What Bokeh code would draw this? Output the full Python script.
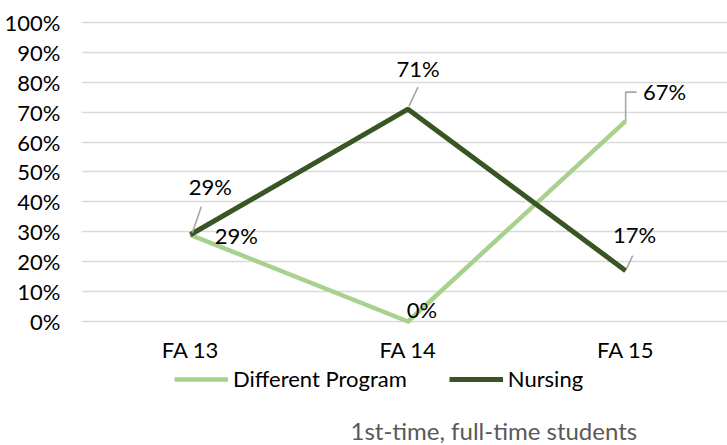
from bokeh.plotting import figure
from bokeh.models import (Range1d, FixedTicker, NumeralTickFormatter, Legend, LegendItem, Label)
from bokeh.core.properties import value
from bokeh.embed import file_html
from bokeh.resources import INLINE

categories = ["FA 13", "FA 14", "FA 15"]
different_program = [0.29, 0.00, 0.67]
nursing = [0.29, 0.71, 0.17]
y_ticks = [0.0, 0.1, 0.2, 0.3, 0.4, 0.5, 0.6, 0.7, 0.8, 0.9, 1.0]
caption = "1st-time, full-time students"

FONT = "Lato"
FS = "22px"
LIGHT = "#A9D18E"
DARK = "#375623"
LEADER = "#A6A6A6"

xs = list(range(len(categories)))

# frame spans the whole lower area so legend and caption are not clipped
p = figure(width=727, height=445, output_backend="svg", toolbar_location=None,
           x_range=Range1d(-0.5, 2.468), y_range=Range1d(-0.4147, 1.01),
           min_border_left=81, min_border_right=0, min_border_top=19, min_border_bottom=0)
p.outline_line_color = None
p.background_fill_color = "white"
p.border_fill_color = "white"

p.yaxis.ticker = FixedTicker(ticks=y_ticks)
p.yaxis.formatter = NumeralTickFormatter(format="0%")
p.yaxis.axis_line_color = None
p.yaxis.major_tick_line_color = None
p.yaxis.minor_tick_line_color = None
p.yaxis.major_tick_out = 0
p.yaxis.major_tick_in = 0
p.yaxis.major_label_standoff = 21
p.yaxis.major_label_text_font = FONT
p.yaxis.major_label_text_font_size = FS
p.yaxis.major_label_text_color = "#000000"
p.xaxis.visible = False

p.xgrid.grid_line_color = None
p.ygrid.ticker = FixedTicker(ticks=y_ticks)
p.ygrid.grid_line_color = "#D9D9D9"
p.ygrid.grid_line_width = 1.6

# category labels below the 0% line
p.text(x=xs, y=[0] * len(xs), text=categories, y_offset=28,
       text_align="center", text_baseline="middle",
       text_font=value(FONT), text_font_size=FS, text_color="#000000")

r1 = p.line(xs, different_program, line_color=LIGHT, line_width=4.5, line_join="round")
r2 = p.line(xs, nursing, line_color=DARK, line_width=5, line_join="round")

XPX, YPX = 218.0, 299.0
nl = [(0, 2, 2, 11, 28), (1, 1, 3, 10, 22), (2, 1, 2, 7, 15)]
p.segment(x0=[xs[i] + a / XPX for i, a, b, c, d in nl],
          y0=[nursing[i] + b / YPX for i, a, b, c, d in nl],
          x1=[xs[i] + c / XPX for i, a, b, c, d in nl],
          y1=[nursing[i] + d / YPX for i, a, b, c, d in nl],
          line_color=LEADER, line_width=1.6)
p.line(x=[xs[2], xs[2], xs[2] + 11 / XPX],
       y=[different_program[2], different_program[2] + 29 / YPX, different_program[2] + 29 / YPX],
       line_color=LEADER, line_width=1.6)

def pct(v):
    return f"{round(v * 100)}%"

p.text(x=xs, y=nursing, text=[pct(v) for v in nursing],
       x_offset=[20, 10, 9], y_offset=[-48, -41, -36],
       text_align="center", text_baseline="middle",
       text_font=value(FONT), text_font_size=FS, text_color="#000000")
p.text(x=xs, y=different_program, text=[pct(v) for v in different_program],
       x_offset=[46, 14, 39], y_offset=[1, -12, -30],
       text_align="center", text_baseline="middle",
       text_font=value(FONT), text_font_size=FS, text_color="#000000")

legend = Legend(items=[LegendItem(label="Different Program", renderers=[r1]),
                       LegendItem(label="Nursing", renderers=[r2])],
                orientation="horizontal", location=(93, 53),
                border_line_color=None, background_fill_alpha=0,
                padding=0, margin=0, spacing=42, glyph_width=54, glyph_height=20,
                label_standoff=5, label_text_font=FONT, label_text_font_size=FS,
                label_text_color="#000000")
p.add_layout(legend)

p.add_layout(Label(x=269, y=15, x_units="screen", y_units="screen", text=caption,
                   text_font=FONT, text_font_size="24px", text_color="#595959",
                   text_baseline="middle", text_align="left"))

open("out.html", "w").write(file_html(p, INLINE))
